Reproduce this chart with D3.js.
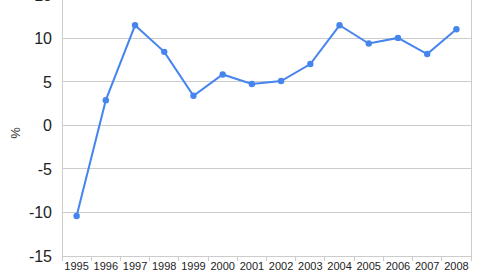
<!DOCTYPE html>
<html><head><meta charset="utf-8">
<script src="https://cdn.jsdelivr.net/npm/d3@7"></script>
<style>body{margin:0;background:#fff;}svg{display:block;}</style>
</head><body>
<svg id="c" width="480" height="270"></svg>
<script>
const years = ["1995","1996","1997","1998","1999","2000","2001","2002","2003","2004","2005","2006","2007","2008"];
const values = [-10.4, 2.9, 11.5, 8.45, 3.4, 5.85, 4.75, 5.1, 7.05, 11.5, 9.4, 10.05, 8.2, 11.05];
const yTicks = [-15, -10, -5, 0, 5, 10, 15];
const yLabel = "%";

const svg = d3.select("#c");
const L = 62, R = 471, T = -5.2, B = 256;
const x = d3.scaleBand().domain(years).range([L, R]);
const y = d3.scaleLinear().domain([-15, 15]).range([B, T]);

// gridlines
svg.append("g").selectAll("line").data(yTicks).join("line")
  .attr("x1", L).attr("x2", R)
  .attr("y1", d => y(d)).attr("y2", d => y(d))
  .attr("stroke", "#cccccc").attr("stroke-width", 1).attr("shape-rendering", "crispEdges");

// left and right borders
svg.append("line").attr("x1", L).attr("x2", L).attr("y1", T).attr("y2", B)
  .attr("stroke", "#cccccc").attr("shape-rendering", "crispEdges");
svg.append("line").attr("x1", R).attr("x2", R).attr("y1", T).attr("y2", B)
  .attr("stroke", "#cccccc").attr("shape-rendering", "crispEdges");

// x ticks at band boundaries
const bounds = years.map(d => x(d)).concat([R]);
svg.append("g").selectAll("line").data(bounds).join("line")
  .attr("x1", d => d).attr("x2", d => d).attr("y1", B).attr("y2", B + 5)
  .attr("stroke", "#cccccc").attr("shape-rendering", "crispEdges");

// y labels
svg.append("g").selectAll("text").data(yTicks).join("text")
  .attr("x", 52).attr("y", d => y(d)).attr("dy", "0.36em")
  .attr("text-anchor", "end")
  .attr("font-family", "Liberation Sans, Arial, sans-serif")
  .attr("font-size", 16).attr("fill", "#222")
  .text(d => d);

// x labels
svg.append("g").selectAll("text").data(years).join("text")
  .attr("x", d => x(d) + x.bandwidth() / 2).attr("y", 270)
  .attr("text-anchor", "middle")
  .attr("font-family", "Liberation Sans, Arial, sans-serif")
  .attr("font-size", 11).attr("fill", "#222")
  .text(d => d);

// y axis title
svg.append("text").attr("transform", "translate(20,133) rotate(-90)")
  .attr("text-anchor", "middle")
  .attr("font-family", "Liberation Sans, Arial, sans-serif")
  .attr("font-size", 13).attr("fill", "#333")
  .text(yLabel);

// line
const line = d3.line().x((d, i) => x(years[i]) + x.bandwidth() / 2).y(d => y(d));
svg.append("path").datum(values).attr("d", line)
  .attr("fill", "none").attr("stroke", "#4684ee").attr("stroke-width", 2);

svg.append("g").selectAll("circle").data(values).join("circle")
  .attr("cx", (d, i) => x(years[i]) + x.bandwidth() / 2).attr("cy", d => y(d))
  .attr("r", 3.2).attr("fill", "#4684ee");
</script>
</body></html>
